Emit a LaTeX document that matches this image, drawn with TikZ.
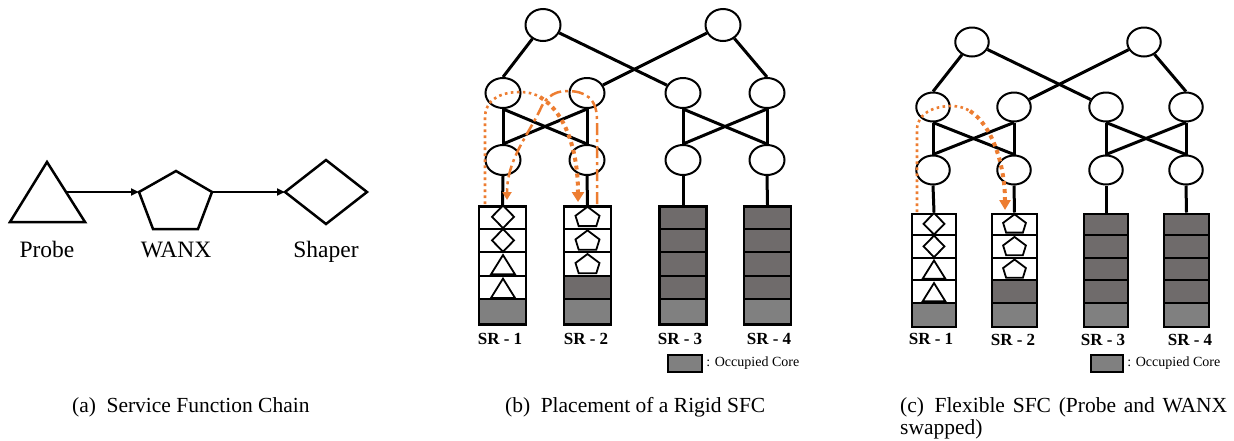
\documentclass[tikz,border=0pt]{standalone}
\usepackage{fontspec}
\setmainfont{Liberation Serif}
\usetikzlibrary{shapes.geometric,arrows.meta}
\definecolor{occA}{RGB}{111,107,107}
\definecolor{occB}{RGB}{128,128,128}
\definecolor{sfcorange}{RGB}{237,125,49}
\newcommand\mkserver[6]{%
  \foreach \f [count=\k from 0] in {#6}{%
    \fill[fill=\f] ({#2-#4/2},{#3+\k*#5}) rectangle ({#2+#4/2},{#3+(\k+1)*#5});
  }%
  \foreach \k in {1,2,3,4}{%
    \draw[slotline] ({#2-#4/2},{#3+\k*#5}) -- ({#2+#4/2},{#3+\k*#5});
  }%
  \node[srv, minimum width=#4pt, minimum height={5*#5pt}] (#1) at (#2,#3) {};
}
\begin{document}
\begin{tikzpicture}[x=1pt,y=-1pt,
  sw/.style={ellipse, draw, line width=2pt, fill=white, minimum width=35pt, minimum height=30pt, inner sep=0pt},
  swc/.style={sw, minimum width=33.5pt, minimum height=29pt},
  link/.style={line width=3pt},
  srv/.style={draw, line width=2.6pt, inner sep=0pt, anchor=north},
  slotline/.style={line width=2pt},
  vnf/.style={draw, line width=1.8pt, fill=white, line join=miter},
  bigvnf/.style={draw, line width=2.5pt, line join=miter},
  chainarrow/.style={line width=2pt, -{Triangle[length=8pt,width=7pt]}},
  srlabel/.style={font=\fontsize{17}{20}\selectfont\bfseries, anchor=base, inner sep=0pt},
  leglabel/.style={font=\fontsize{14}{16}\selectfont, anchor=west, inner sep=0pt},
  legbox/.style={draw, line width=2.2pt, fill=occB, inner sep=0pt},
  vnflabel/.style={font=\fontsize{23.5}{26}\selectfont, anchor=base, inner sep=0pt},
  caption/.style={font=\fontsize{21.5}{24}\selectfont, anchor=base west, inner sep=0pt},
  orA/.style={sfcorange, line width=2.6pt, dash pattern=on 2.6pt off 3.4pt},
  orB/.style={sfcorange, line width=4pt, dash pattern=on 4pt off 4pt},
  orC/.style={sfcorange, line width=2.5pt, dash pattern=on 12pt off 4pt on 3pt off 4pt},
  diam/.pic={\draw[vnf] (-11,0) -- (0,-11.3) -- (11,0) -- (0,11.3) -- cycle;},
  tri/.pic={\draw[vnf] (0,-9) -- (12,10.3) -- (-12,10.3) -- cycle;},
  pent/.pic={\draw[vnf] (0,-10) -- (12,-1) -- (8.8,9.3) -- (-8.8,9.3) -- (-12,-1) -- cycle;}
]
\useasboundingbox (0,0) rectangle (1234,440);

% ---------------- (a) Service Function Chain ----------------
\draw[bigvnf] (10,222) -- (47,162) -- (85,222) -- cycle;
\draw[bigvnf] (176,171) -- (212,192) -- (198,229) -- (153,229) -- (139,192) -- cycle;
\draw[bigvnf] (285,192) -- (326,160) -- (367,192) -- (326,224) -- cycle;
\coordinate (probeR) at (66,192);
\coordinate (wanxL) at (139,192);
\coordinate (wanxR) at (212,192);
\coordinate (shaperL) at (285,192);
\draw[chainarrow] (probeR) -- (wanxL);
\draw[chainarrow] (wanxR) -- (shaperL);
\node[vnflabel] (lprobe) at (47,257) {Probe};
\node[vnflabel] (lwanx) at (176,257) {WANX};
\node[vnflabel] (lshaper) at (326,257) {Shaper};

% ---------------- (b) Rigid SFC ----------------
\node[sw, minimum height=32pt] (bc1) at (543,25) {};
\node[sw, minimum height=32pt] (bc2) at (723,25) {};
\node[sw] (ba1) at (503,93) {};
\node[sw] (ba2) at (587,93) {};
\node[sw] (ba3) at (683,93) {};
\node[sw] (ba4) at (767,93) {};
\node[sw] (be1) at (503,160) {};
\node[sw] (be2) at (587,160) {};
\node[sw] (be3) at (683,160) {};
\node[sw] (be4) at (767,160) {};
\draw[link] (bc1) -- (ba1.north);
\draw[link] (bc1) -- (ba3);
\draw[link] (bc2) -- (ba2);
\draw[link] (bc2) -- (ba4.north);
\draw[link] (ba1.south) -- (be1.north);
\draw[link] (ba1.south) -- (be2.north);
\draw[link] (ba2.south) -- (be1.north);
\draw[link] (ba2.south) -- (be2.north);
\draw[link] (ba3.south) -- (be3.north);
\draw[link] (ba3.south) -- (be4.north);
\draw[link] (ba4.south) -- (be3.north);
\draw[link] (ba4.south) -- (be4.north);

\mkserver{bs1}{502.5}{205}{47}{23.6}{white,white,white,white,occB}
\mkserver{bs2}{587.5}{205}{47}{23.6}{white,white,white,occA,occB}
\mkserver{bs3}{683}{205}{47}{23.6}{occA,occA,occA,occA,occB}
\mkserver{bs4}{767.5}{205}{47}{23.6}{occA,occA,occA,occA,occB}
\draw[link] (be1.south) -- (bs1.north);
\draw[link] (be2.south) -- (bs2.north);
\draw[link] (be3.south) -- (bs3.north);
\draw[link] (be4.south) -- (bs4.north);

\pic at (503,216.8) {diam};
\pic at (503,240.4) {diam};
\pic at (503,264.0) {tri};
\pic at (503,287.6) {tri};
\pic at (587.5,216.8) {pent};
\pic at (587.5,240.4) {pent};
\pic at (587.5,264.0) {pent};

\node[srlabel] (lb1) at (500,344) {SR - 1};
\node[srlabel] (lb2) at (586,344) {SR - 2};
\node[srlabel] (lb3) at (680,344) {SR - 3};
\node[srlabel] (lb4) at (769,344) {SR - 4};

\node[legbox, minimum width=34pt, minimum height=17pt] (legb) at (685,363.5) {};
\node[leglabel, xshift=3pt] (legbt) at (legb.east) {: Occupied Core};

% orange paths (b)
\coordinate (p1s) at (485,204);
\coordinate (p1e) at (578,202);
\coordinate (p1m) at (540,97);
\coordinate (p2s) at (597,204);
\coordinate (p2e) at (507,200);
\draw[orA] (p1s) -- (485,118) .. controls (485,100) and (500,92) .. (520,92) .. controls (528,92) and (535,94) .. (p1m);
\draw[orB, -{Triangle[length=10pt,width=12pt]}] (p1m) .. controls (565,112) and (578,150) .. (p1e);
\draw[orC, -{Triangle[length=8pt,width=9pt]}] (p2s) -- (597,120) .. controls (597,98) and (585,91) .. (567,91) .. controls (552,91) and (544,100) .. (540,110) .. controls (528,135) and (507,160) .. (p2e);

% ---------------- (c) Flexible SFC ----------------
\node[swc] (cc1) at (972,42) {};
\node[swc] (cc2) at (1144,42) {};
\node[swc] (ca1) at (933,107) {};
\node[swc] (ca2) at (1014,107) {};
\node[swc] (ca3) at (1106,107) {};
\node[swc] (ca4) at (1186,107) {};
\node[swc] (ce1) at (933,170) {};
\node[swc] (ce2) at (1014,170) {};
\node[swc] (ce3) at (1106,170) {};
\node[swc] (ce4) at (1186,170) {};
\draw[link] (cc1) -- (ca1.north);
\draw[link] (cc1) -- (ca3);
\draw[link] (cc2) -- (ca2);
\draw[link] (cc2) -- (ca4.north);
\draw[link] (ca1.south) -- (ce1.north);
\draw[link] (ca1.south) -- (ce2.north);
\draw[link] (ca2.south) -- (ce1.north);
\draw[link] (ca2.south) -- (ce2.north);
\draw[link] (ca3.south) -- (ce3.north);
\draw[link] (ca3.south) -- (ce4.north);
\draw[link] (ca4.south) -- (ce3.north);
\draw[link] (ca4.south) -- (ce4.north);

\mkserver{cs1}{934}{212.5}{44}{22.6}{white,white,white,white,occB}
\mkserver{cs2}{1014.5}{212.5}{45}{22.6}{white,white,white,occA,occB}
\mkserver{cs3}{1106}{212.5}{44}{22.6}{occA,occA,occA,occA,occB}
\mkserver{cs4}{1186.5}{212.5}{45}{22.6}{occA,occA,occA,occA,occB}
\draw[link] (ce1.south) -- (cs1.north);
\draw[link] (ce2.south) -- (cs2.north);
\draw[link] (ce3.south) -- (cs3.north);
\draw[link] (ce4.south) -- (cs4.north);

\pic[scale=0.95] at (934,223.8) {diam};
\pic[scale=0.95] at (934,246.4) {diam};
\pic[scale=0.95] at (934,269.0) {tri};
\pic[scale=0.95] at (934,291.6) {tri};
\pic[scale=0.95] at (1014.5,223.8) {pent};
\pic[scale=0.95] at (1014.5,246.4) {pent};
\pic[scale=0.95] at (1014.5,269.0) {pent};

\node[srlabel] (lc1) at (931,344) {SR - 1};
\node[srlabel] (lc2) at (1013,345) {SR - 2};
\node[srlabel] (lc3) at (1103,345) {SR - 3};
\node[srlabel] (lc4) at (1190,345) {SR - 4};

\node[legbox, minimum width=32pt, minimum height=17pt] (legc) at (1107,363.5) {};
\node[leglabel, xshift=3pt] (legct) at (legc.east) {: Occupied Core};

% orange path (c)
\coordinate (q1s) at (917,212);
\coordinate (q1m) at (970,111);
\coordinate (q1e) at (1005,210);
\draw[orA] (q1s) -- (917,130) .. controls (917,113) and (934,106) .. (952,106) .. controls (959,106) and (965,108) .. (q1m);
\draw[orB, -{Triangle[length=10pt,width=11pt]}] (q1m) .. controls (992,125) and (1005,165) .. (q1e);

% ---------------- captions ----------------
\node[caption] (capa) at (72,412) {(a)\hspace{10.5pt}Service Function Chain};
\node[caption] (capb) at (505,412) {(b)\hspace{10.5pt}Placement of a Rigid SFC};
\node[caption] (capc) at (900,412) {\makebox[327pt][s]{(c)\hspace{10.5pt}Flexible SFC (Probe and WANX}};
\node[caption] (capc2) at (900,434) {swapped)};
\end{tikzpicture}
\end{document}
